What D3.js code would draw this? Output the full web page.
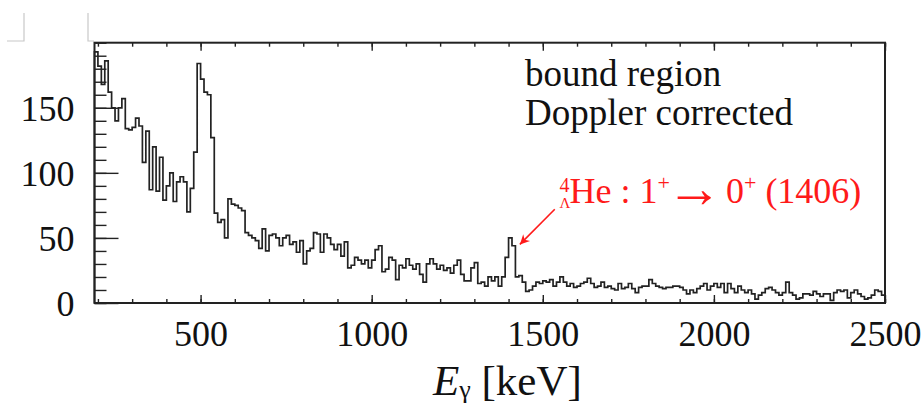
<!DOCTYPE html>
<html>
<head>
<meta charset="utf-8">
<script src="https://cdn.jsdelivr.net/npm/d3@7"></script>
<style>
  body { margin: 0; background: #fff; }
  svg { display: block; }
  text { font-family: "Liberation Serif", "Times New Roman", serif; }
</style>
</head>
<body>
<div id="chart"></div>
<script>
var width = 924,
    height = 405;

// histogram: 10 keV bins starting at 190 keV
var binStart = 190,
    binWidth = 10;
var counts = [
  193, 182, 168, 186, 162, 150, 140, 150, 157, 134,
  133, 135, 142, 136, 108, 132, 87, 120, 86, 112,
  79, 90, 100, 78, 93, 97, 93, 70, 88, 116,
  184, 172, 162, 160, 127, 69, 62, 64, 50, 80,
  76, 75, 73, 71, 54, 52, 50, 48, 42, 57,
  40, 52, 53, 50, 44, 50, 52, 45, 47, 39,
  48, 30, 40, 42, 54, 53, 39, 53, 50, 45,
  41, 45, 36, 47, 27, 29, 35, 33, 30, 33,
  27, 33, 41, 44, 24, 26, 35, 33, 18, 29,
  27, 34, 29, 26, 30, 22, 16, 30, 34, 30,
  26, 29, 25, 27, 23, 29, 33, 22, 17, 17,
  27, 31, 15, 16, 13, 20, 17, 20, 13, 20,
  35, 50, 44, 20, 21, 16, 9, 10, 13, 16,
  15, 17, 16, 18, 13, 16, 20, 16, 13, 15,
  12, 13, 15, 16, 19, 15, 12, 13, 16, 12,
  13, 11, 10, 15, 11, 12, 15, 11, 8, 12,
  13, 13, 18, 15, 13, 12, 11, 12, 12, 13,
  13, 12, 10, 7, 10, 8, 11, 13, 15, 10,
  13, 15, 12, 15, 8, 15, 11, 8, 13, 10,
  8, 10, 7, 3, 6, 8, 11, 12, 10, 8,
  6, 8, 16, 8, 6, 3, 4, 7, 7, 6,
  9, 7, 5, 7, 7, 2, 8, 10, 9, 10,
  4, 8, 10, 7, 5, 3, 4, 6, 10, 9,
  6
];

var xDomain = [190, 2500],
    yDomain = [0, 200];
var xTicks = [500, 1000, 1500, 2000, 2500],
    yTicks = [0, 50, 100, 150];
var xMinorTicks = d3.range(200, 2501, 100),
    yMinorTicks = d3.range(0, 201, 10);

var legendLines = ["bound region", "Doppler corrected"];
// annotation for the 1406 keV line (data units)
var arrowFrom = [1535, 72],
    arrowTo = [1433, 45],
    labelAt = [1549, 77];

var svg = d3.select("#chart").append("svg")
    .attr("width", width)
    .attr("height", height);

var x = d3.scaleLinear().domain(xDomain).range([94.5, 885]);
var y = d3.scaleLinear().domain(yDomain).range([303, 42.7]);

// light corner marks of the scanned figure
var marks = svg.append("g").attr("stroke", "#c8c8c8").attr("stroke-width", 1.2).attr("fill", "none");
marks.append("path").attr("d", "M24,13V41H7");
marks.append("path").attr("d", "M88,13V41H94");

// histogram outline
var pts = [[binStart, 0]];
counts.forEach(function(c, i) {
    var lo = binStart + i * binWidth;
    pts.push([lo, c], [Math.min(lo + binWidth, xDomain[1]), c]);
});
pts.push([xDomain[1], 0]);

var line = d3.line()
    .x(function(d) { return x(d[0]); })
    .y(function(d) { return y(d[1]); });

svg.append("path")
    .datum(pts)
    .attr("fill", "none")
    .attr("stroke", "#222")
    .attr("stroke-width", 1.7)
    .attr("d", line);

// axes
var fmt = d3.format("d");
var gx = svg.append("g").attr("transform", "translate(0," + y(0) + ")");
gx.call(d3.axisBottom(x).tickValues(xMinorTicks).tickSize(-4).tickFormat(""));
gx.append("g").call(d3.axisBottom(x).tickValues(xTicks).tickSize(-8).tickPadding(17).tickFormat(fmt));

var gxTop = svg.append("g").attr("transform", "translate(0," + y(200) + ")");
gxTop.call(d3.axisTop(x).tickValues(xMinorTicks).tickSize(-4).tickFormat(""));
gxTop.append("g").call(d3.axisTop(x).tickValues(xTicks).tickSize(-8).tickFormat(""));

var gy = svg.append("g").attr("transform", "translate(" + x(xDomain[0]) + ",0)");
gy.call(d3.axisLeft(y).tickValues(yMinorTicks).tickSize(-12).tickFormat(""));
gy.append("g").call(d3.axisLeft(y).tickValues(yTicks).tickSize(-24).tickPadding(20).tickFormat(fmt));

svg.selectAll(".domain").remove();
svg.selectAll(".tick line").attr("stroke", "#222").attr("stroke-width", 1.4);
svg.selectAll(".tick text")
    .attr("font-family", '"Liberation Serif", "Times New Roman", serif')
    .attr("font-size", 36)
    .attr("fill", "#111");
gy.selectAll(".tick text").attr("dy", "0.36em");

// frame
svg.append("rect")
    .attr("x", x(xDomain[0]))
    .attr("y", y(yDomain[1]))
    .attr("width", x(xDomain[1]) - x(xDomain[0]))
    .attr("height", y(0) - y(yDomain[1]))
    .attr("fill", "none")
    .attr("stroke", "#222")
    .attr("stroke-width", 2);

// axis title
var title = svg.append("text")
    .attr("x", 433)
    .attr("y", 395)
    .attr("font-size", 43)
    .attr("fill", "#111");
title.append("tspan").attr("font-style", "italic").text("E");
title.append("tspan").attr("font-size", 26).attr("dy", 3).text("γ");
title.append("tspan").attr("dy", -3).text(" [keV]");

// legend text
svg.append("g").selectAll("text")
    .data(legendLines)
    .enter().append("text")
    .attr("x", 525)
    .attr("y", function(d, i) { return 86 + i * 39; })
    .attr("font-size", 37)
    .attr("fill", "#111")
    .text(function(d) { return d; });

// red annotation
var red = "#ff1a1a";
svg.append("defs").append("marker")
    .attr("id", "head")
    .attr("viewBox", "0 0 10 10")
    .attr("refX", 10).attr("refY", 5)
    .attr("markerWidth", 7).attr("markerHeight", 6)
    .attr("orient", "auto")
    .attr("markerUnits", "strokeWidth")
  .append("path")
    .attr("d", "M0,0L10,5L0,10L3,5Z")
    .attr("fill", red);

svg.append("line")
    .attr("x1", x(arrowFrom[0])).attr("y1", y(arrowFrom[1]))
    .attr("x2", x(arrowTo[0])).attr("y2", y(arrowTo[1]))
    .attr("stroke", red)
    .attr("stroke-width", 1.6)
    .attr("marker-end", "url(#head)");

var lx = x(labelAt[0]), ly = y(labelAt[1]);
var ann = svg.append("g").attr("fill", red);
ann.append("text").attr("x", lx).attr("y", ly - 11).attr("font-size", 20).text("4");
ann.append("text").attr("x", lx).attr("y", ly + 5).attr("font-size", 15).text("Λ");
var main = ann.append("text").attr("x", lx + 10).attr("y", ly).attr("font-size", 36);
main.append("tspan").text("He : 1");
main.append("tspan").attr("font-size", 22).attr("dy", -13).text("+");
main.append("tspan").attr("font-size", 56).attr("dy", 17).attr("dx", -4).text("→");
main.append("tspan").attr("dy", -4).attr("dx", 4).text("0");
main.append("tspan").attr("font-size", 22).attr("dy", -13).text("+");
main.append("tspan").attr("dy", 13).text(" (1406)");
</script>
</body>
</html>
